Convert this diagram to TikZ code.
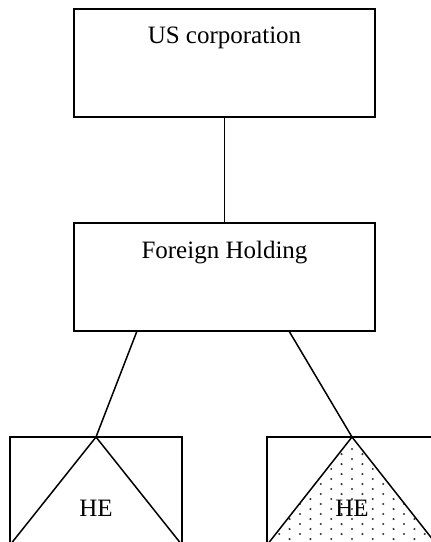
\documentclass[tikz,border=0pt]{standalone}
\usepackage{fontspec}
\setmainfont{Liberation Serif}
\begin{document}
\begin{tikzpicture}[x=1pt,y=-1pt,
  boxstyle/.style={draw=black,line width=1.5pt,fill=none,inner sep=0pt,outer sep=0pt},
  lbl/.style={font=\fontsize{25}{30}\selectfont,inner sep=0pt,anchor=base},
  conn/.style={draw=black,line width=1.5pt},
  dotc/.style={fill=black!80}]
\useasboundingbox (0,0) rectangle (431,542);
\clip (0,0) rectangle (431,542);
% boxes
\node[boxstyle,minimum width=301pt,minimum height=108pt] (us) at (224.5,63) {};
\node[boxstyle,minimum width=301pt,minimum height=108pt] (fh) at (224.5,277) {};
\node[boxstyle,minimum width=172pt,minimum height=108pt] (he1) at (96,491) {};
\node[boxstyle,minimum width=170pt,minimum height=108pt] (he2) at (352,491) {};
% dotted triangle
\begin{scope}
  \clip (he2.north) -- (he2.south west) -- (he2.south east) -- cycle;
  \foreach \i in {-9,...,9}{
    \foreach \j in {0,...,11}{
      \fill[dotc] ({352+10.4*\i},{449+10*\j+5*mod(abs(\i),2)}) circle (1.15);
    }
  }
\end{scope}
% triangles
\draw[conn] (he1.south west) -- (he1.north) -- (he1.south east);
\draw[conn] (he2.south west) -- (he2.north) -- (he2.south east);
% labels
\node[lbl] (tus) at (224.5,43) {US corporation};
\node[lbl] (tfh) at (224.5,258) {Foreign Holding};
\node[lbl] (the1) at (96,516) {HE};
\node[lbl] (the2) at (352,516) {HE};
% connectors
\coordinate (fl) at (137,331);
\coordinate (fr) at (289,331);
\draw[conn] (us.south) -- (fh.north);
\draw[conn] (fl) -- (he1.north);
\draw[conn] (fr) -- (he2.north);
\end{tikzpicture}
\end{document}
